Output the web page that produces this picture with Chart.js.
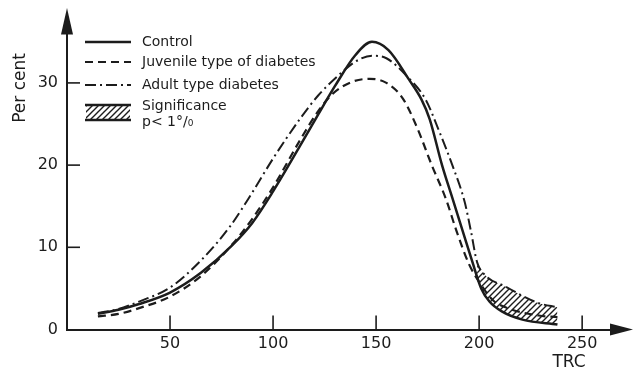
<!DOCTYPE html>
<html>
<head>
<meta charset="utf-8">
<script src="https://cdn.jsdelivr.net/npm/chart.js@4.4.0/dist/chart.umd.min.js"></script>
<style>
body { margin: 0; background: #fff; }
#wrap { width: 633px; height: 373px; position: relative; }
</style>
</head>
<body>
<div id="wrap"><canvas id="chart"></canvas></div>
<script>
// values (TRC on x, per cent on y)
const controlX = [15, 25, 35, 50, 65, 80, 90, 100, 113, 122, 130, 140, 148, 156, 166, 172, 176, 182, 187, 192, 197, 201, 205, 211, 221, 238]
const controlY = [1.9, 2.4, 3.1, 4.5, 6.9, 10.2, 13.0, 16.8, 22.3, 26.2, 29.6, 33.4, 35.0, 34.0, 30.4, 28.0, 25.6, 20.0, 16.0, 12.0, 8.0, 5.0, 3.4, 2.2, 1.2, 0.6]

const juvenileX = [15, 25, 35, 50, 65, 80, 90, 100, 113, 122, 129, 138, 147, 155, 163, 170, 177, 184, 189, 195, 200, 207, 215, 229, 238]
const juvenileY = [1.6, 1.9, 2.6, 4.0, 6.5, 10.3, 13.5, 17.3, 23.0, 26.6, 28.7, 30.1, 30.5, 30.0, 28.1, 24.5, 20.0, 15.8, 12.0, 8.0, 5.8, 3.5, 2.5, 1.7, 1.5]

const adultX = [15, 25, 35, 50, 65, 79, 90, 100, 113, 122, 133, 140, 148, 155, 165, 174, 180, 187, 193, 196, 199, 203, 213, 221, 229, 238]
const adultY = [2.0, 2.5, 3.4, 5.1, 8.4, 12.5, 16.7, 20.8, 25.6, 28.5, 31.2, 32.6, 33.3, 33.0, 30.8, 28.0, 24.5, 20.0, 15.5, 12.0, 8.2, 6.6, 5.2, 4.1, 3.2, 2.7]

// hatched band starts where the adult curve leaves the control curve
const significanceFrom = 199

const xTicks = [50, 100, 150, 200, 250]
const yTicks = [0, 10, 20, 30]

const ink = '#1c1c1c'
const fontFamily = '"DejaVu Sans", sans-serif'

function toPoints(xs, ys) {
    return xs.map((x, i) => ({x: x, y: ys[i]}))
}

function makeHatch(ctx) {
    const c = document.createElement('canvas')
    c.width = 6
    c.height = 6
    const g = c.getContext('2d')
    g.strokeStyle = ink
    g.lineWidth = 1.4
    g.beginPath()
    g.moveTo(0, 6); g.lineTo(6, 0)
    g.moveTo(-3, 3); g.lineTo(3, -3)
    g.moveTo(3, 9); g.lineTo(9, 3)
    g.stroke()
    return ctx.createPattern(c, 'repeat')
}

const canvas = document.getElementById('chart')
const hatch = makeHatch(canvas.getContext('2d'))

const significancePoints = toPoints(adultX, adultY).filter(p => p.x >= significanceFrom)

// axes arrows, inward tick marks, titles and the legend block
const decor = {
    id: 'decor',
    afterDraw(chart) {
        const ctx = chart.ctx
        const xs = chart.scales.x
        const ys = chart.scales.y
        const left = xs.left
        const bottom = ys.bottom
        ctx.save()
        ctx.strokeStyle = ink
        ctx.fillStyle = ink
        ctx.lineWidth = 1.6
        // tick marks
        xTicks.forEach(v => {
            const px = xs.getPixelForValue(v)
            ctx.beginPath(); ctx.moveTo(px, bottom); ctx.lineTo(px, bottom - 14); ctx.stroke()
        })
        yTicks.filter(v => v > 0).forEach(v => {
            const py = ys.getPixelForValue(v)
            ctx.beginPath(); ctx.moveTo(left, py); ctx.lineTo(left + 13, py); ctx.stroke()
        })
        // arrows
        ctx.beginPath()
        ctx.moveTo(left, 8); ctx.lineTo(left - 6, ys.top + 1); ctx.lineTo(left + 6, ys.top + 1)
        ctx.closePath(); ctx.fill()
        ctx.beginPath()
        ctx.moveTo(633, bottom); ctx.lineTo(xs.right - 1, bottom - 6); ctx.lineTo(xs.right - 1, bottom + 6)
        ctx.closePath(); ctx.fill()
        // axis titles
        ctx.font = '17px ' + fontFamily
        ctx.textAlign = 'center'
        ctx.textBaseline = 'middle'
        ctx.fillText('TRC', 569, 363)
        ctx.save()
        ctx.translate(21, 88)
        ctx.rotate(-Math.PI / 2)
        ctx.fillText('Per cent', 0, 0)
        ctx.restore()
        // legend
        ctx.font = '14px ' + fontFamily
        ctx.textAlign = 'left'
        const rows = [42, 62, 85]
        chart.data.datasets.slice(0, 3).forEach((ds, i) => {
            ctx.save()
            ctx.lineWidth = ds.borderWidth
            ctx.setLineDash(ds.borderDash || [])
            ctx.beginPath(); ctx.moveTo(85, rows[i]); ctx.lineTo(131, rows[i]); ctx.stroke()
            ctx.restore()
            ctx.fillText(ds.label, 142, rows[i])
        })
        ctx.fillStyle = hatch
        ctx.fillRect(86, 105, 44, 15)
        ctx.fillStyle = ink
        ctx.lineWidth = 2.4
        ctx.beginPath()
        ctx.moveTo(85, 105); ctx.lineTo(131, 105)
        ctx.moveTo(85, 120); ctx.lineTo(131, 120)
        ctx.stroke()
        ctx.fillText('Significance', 142, 106)
        ctx.fillText('p< 1°/₀', 142, 122)
        ctx.restore()
    }
}

new Chart(canvas, {
    type: 'line',
    data: {
        datasets: [
            {
                label: 'Control',
                data: toPoints(controlX, controlY),
                borderColor: ink,
                borderWidth: 2.5,
                borderDash: [],
                fill: false
            },
            {
                label: 'Juvenile type of diabetes',
                data: toPoints(juvenileX, juvenileY),
                borderColor: ink,
                borderWidth: 2.2,
                borderDash: [8, 5],
                fill: false
            },
            {
                label: 'Adult type diabetes',
                data: toPoints(adultX, adultY),
                borderColor: ink,
                borderWidth: 2,
                borderDash: [11, 4, 2, 4],
                fill: false
            },
            {
                label: 'Significance',
                data: significancePoints,
                borderWidth: 0,
                borderColor: 'rgba(0,0,0,0)',
                backgroundColor: hatch,
                fill: {target: 0}
            }
        ]
    },
    options: {
        responsive: true,
        maintainAspectRatio: false,
        animation: false,
        events: [],
        layout: {padding: {top: 33.6, right: 22, left: 0, bottom: 0}},
        elements: {
            point: {radius: 0},
            line: {cubicInterpolationMode: 'monotone'}
        },
        plugins: {
            legend: {display: false},
            tooltip: {enabled: false}
        },
        scales: {
            x: {
                type: 'linear',
                min: 0,
                max: 264,
                border: {display: true, color: ink, width: 2},
                grid: {display: false, drawTicks: false},
                ticks: {color: ink, font: {size: 16, family: fontFamily}, padding: 5, maxRotation: 0},
                afterBuildTicks: s => { s.ticks = xTicks.map(v => ({value: v})) },
                afterFit: s => { s.height = 43.5 }
            },
            y: {
                min: 0,
                max: 36,
                border: {display: true, color: ink, width: 2},
                grid: {display: false, drawTicks: false},
                ticks: {color: ink, font: {size: 16, family: fontFamily}, padding: 9},
                afterBuildTicks: s => { s.ticks = yTicks.map(v => ({value: v})) },
                afterFit: s => { s.width = 67 }
            }
        }
    },
    plugins: [decor]
})
</script>
</body>
</html>
